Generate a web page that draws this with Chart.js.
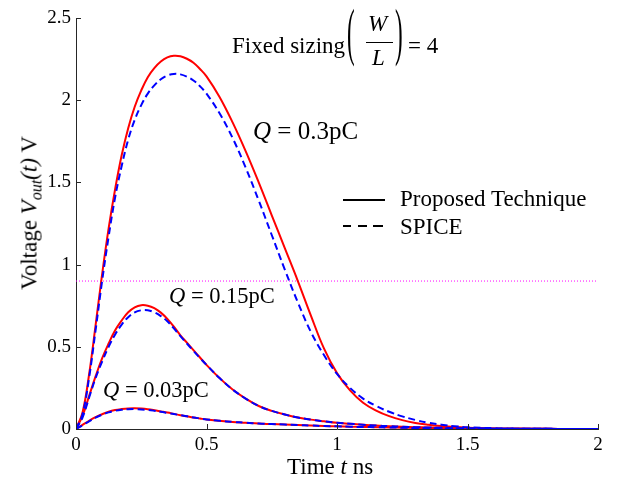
<!DOCTYPE html>
<html>
<head>
<meta charset="utf-8">
<script src="https://cdn.jsdelivr.net/npm/chart.js@4.4.0/dist/chart.umd.min.js"></script>
<style>
  html, body { margin: 0; padding: 0; background: #fff; }
  #wrap { position: relative; width: 625px; height: 479px; font-family: "Liberation Serif", "Times New Roman", serif; color: #000; }
  #wrap canvas { position: absolute; left: 0; top: 0; }
  .lbl { position: absolute; line-height: 1; white-space: nowrap; }
  .dash { position: absolute; height: 0; border-top: 2px solid #000; }
</style>
</head>
<body>
<div id="wrap">
  <canvas id="chart" width="625" height="479"></canvas>

  <!-- title -->
  <div class="lbl" style="left:232px; top:33.7px; font-size:23px;">Fixed sizing</div>
  <div class="lbl" style="left:347px; top:25px; font-size:23px; transform-origin:50% 13.75px; transform:scaleY(2.75);">(</div>
  <div class="lbl" style="left:368px; top:12.4px; font-size:23px; font-style:italic;">W</div>
  <div class="dash" style="left:366px; top:42px; width:27px; border-top-width:1px;"></div>
  <div class="lbl" style="left:372px; top:45.7px; font-size:23px; font-style:italic;">L</div>
  <div class="lbl" style="left:395px; top:25px; font-size:23px; transform-origin:50% 13.75px; transform:scaleY(2.75);">)</div>
  <div class="lbl" style="left:408px; top:33.7px; font-size:23px;">= 4</div>

  <!-- curve labels -->
  <div class="lbl" style="left:253px; top:118.1px; font-size:25px;"><i>Q</i> = 0.3pC</div>
  <div class="lbl" style="left:169px; top:285.2px; font-size:22.5px;"><i>Q</i> = 0.15pC</div>
  <div class="lbl" style="left:103px; top:379.2px; font-size:22.5px;"><i>Q</i> = 0.03pC</div>

  <!-- legend -->
  <div class="dash" style="left:343px; top:199px; width:42px;"></div>
  <div class="lbl" style="left:400px; top:187.2px; font-size:23px;">Proposed Technique</div>
  <div class="dash" style="left:343px; top:225px; width:8px;"></div>
  <div class="dash" style="left:358px; top:225px; width:9px;"></div>
  <div class="dash" style="left:373px; top:225px; width:10px;"></div>
  <div class="lbl" style="left:400px; top:215px; font-size:23px;">SPICE</div>

  <!-- axis titles -->
  <div class="lbl" style="left:287px; top:454.7px; font-size:23px;">Time <i>t</i> ns</div>
  <div class="lbl" style="left:29px; top:212.5px; font-size:23px; transform:translate(-50%,-50%) rotate(-90deg);">Voltage <i>V</i><i style="font-size:16px; line-height:0; vertical-align:-5px;">out</i><i>(t)</i> V</div>
</div>

<script>
// time axis (ns): fine steps over the peaks, coarser in the tails
const T = [0, 0.025, 0.05, 0.075, 0.1, 0.125, 0.15, 0.175, 0.2, 0.225, 0.25, 0.275, 0.3,
  0.325, 0.35, 0.375, 0.4, 0.425, 0.45, 0.475, 0.5,
  0.55, 0.6, 0.65, 0.7, 0.75, 0.8, 0.85, 0.9, 0.95, 1.0,
  1.05, 1.1, 1.15, 1.2, 1.25, 1.3, 1.35, 1.4, 1.45, 1.5,
  1.6, 1.7, 1.8, 1.9, 2.0];

// Q = 0.3pC
const proposed03 = [0, 0.1, 0.33, 0.63, 0.94, 1.22, 1.46, 1.665, 1.83, 1.96, 2.06, 2.14, 2.195,
  2.235, 2.26, 2.27, 2.267, 2.252, 2.228, 2.19, 2.145,
  2.02, 1.865, 1.69, 1.5, 1.3, 1.1, 0.9, 0.69, 0.49, 0.34,
  0.235, 0.16, 0.112, 0.078, 0.054, 0.037, 0.026, 0.018, 0.012, 0.008,
  0.003, 0.001, 0, 0, 0];
const spice03 = [0, 0.09, 0.31, 0.6, 0.9, 1.17, 1.41, 1.6, 1.76, 1.88, 1.97, 2.04, 2.09,
  2.127, 2.15, 2.16, 2.157, 2.143, 2.12, 2.085, 2.04,
  1.92, 1.77, 1.59, 1.39, 1.18, 0.97, 0.77, 0.59, 0.45, 0.335,
  0.25, 0.185, 0.14, 0.105, 0.077, 0.055, 0.038, 0.026, 0.017, 0.011,
  0.005, 0.002, 0.001, 0, 0];

// Q = 0.15pC
const proposed015 = [0, 0.08, 0.2, 0.32, 0.43, 0.52, 0.6, 0.66, 0.71, 0.74, 0.753, 0.75, 0.735,
  0.708, 0.67, 0.622, 0.57, 0.525, 0.48, 0.435, 0.39,
  0.31, 0.24, 0.185, 0.14, 0.11, 0.088, 0.07, 0.057, 0.047, 0.038,
  0.032, 0.026, 0.021, 0.017, 0.014, 0.011, 0.009, 0.007, 0.005, 0.004,
  0.002, 0.001, 0.001, 0, 0];
const spice015 = [0, 0.07, 0.19, 0.31, 0.41, 0.5, 0.575, 0.635, 0.68, 0.71, 0.722, 0.722, 0.71,
  0.687, 0.655, 0.612, 0.565, 0.52, 0.475, 0.432, 0.39,
  0.31, 0.24, 0.185, 0.14, 0.11, 0.088, 0.07, 0.057, 0.047, 0.038,
  0.032, 0.026, 0.021, 0.017, 0.014, 0.011, 0.009, 0.007, 0.005, 0.004,
  0.002, 0.001, 0.001, 0, 0];

// Q = 0.03pC
const proposed003 = [0, 0.025, 0.05, 0.072, 0.09, 0.105, 0.115, 0.121, 0.125, 0.126, 0.124, 0.12, 0.114,
  0.107, 0.1, 0.092, 0.084, 0.077, 0.07, 0.064, 0.058,
  0.05, 0.043, 0.038, 0.033, 0.03, 0.027, 0.024, 0.021, 0.018, 0.016,
  0.014, 0.012, 0.011, 0.009, 0.008, 0.006, 0.005, 0.004, 0.003, 0.003,
  0.002, 0.001, 0.001, 0, 0];
const spice003 = [0, 0.023, 0.047, 0.069, 0.087, 0.101, 0.111, 0.117, 0.12, 0.121, 0.119, 0.116, 0.111,
  0.105, 0.098, 0.091, 0.084, 0.077, 0.07, 0.064, 0.058,
  0.05, 0.043, 0.038, 0.033, 0.03, 0.027, 0.024, 0.021, 0.018, 0.016,
  0.014, 0.012, 0.011, 0.009, 0.008, 0.006, 0.005, 0.004, 0.003, 0.003,
  0.002, 0.001, 0.001, 0, 0];

// dotted reference level (V) and axis ticks
const refLevel = 0.9;
const xTicks = [0, 0.5, 1, 1.5, 2];
const yTicks = [0, 0.5, 1, 1.5, 2, 2.5];

const pts = arr => T.map((t, i) => ({ x: t, y: arr[i] }));

function proposed(arr) {
  return { data: pts(arr), borderColor: '#ff0000', borderWidth: 2, pointRadius: 0, tension: 0.4, order: 1 };
}
function spice(arr) {
  return { data: pts(arr), borderColor: '#0000ff', borderWidth: 2, borderDash: [7, 4], pointRadius: 0,
    tension: 0.4, order: 0 };
}

// MATLAB style ticks pointing into the plot
const innerTicks = {
  id: 'innerTicks',
  afterDraw(chart) {
    const { ctx, chartArea: a, scales: { x, y } } = chart;
    ctx.save();
    ctx.strokeStyle = '#262626';
    ctx.lineWidth = 1;
    ctx.beginPath();
    xTicks.forEach(v => {
      const px = Math.round(x.getPixelForValue(v)) + 0.5;
      ctx.moveTo(px, a.bottom); ctx.lineTo(px, a.bottom - 5);
    });
    yTicks.forEach(v => {
      const py = Math.round(y.getPixelForValue(v)) + 0.5;
      ctx.moveTo(a.left, py); ctx.lineTo(a.left + 5, py);
    });
    ctx.stroke();
    ctx.restore();
  }
};

const tickFont = { family: "'Liberation Serif', serif", size: 19 };
const fmt = v => String(v);

new Chart(document.getElementById('chart'), {
  type: 'line',
  data: {
    datasets: [
      { data: [{ x: 0, y: refLevel }, { x: 2, y: refLevel }], borderColor: '#ff00ff', borderWidth: 1,
        borderDash: [1, 2], pointRadius: 0, order: 2 },
      proposed(proposed03), spice(spice03),
      proposed(proposed015), spice(spice015),
      proposed(proposed003), spice(spice003)
    ]
  },
  options: {
    responsive: false,
    animation: false,
    layout: { padding: { top: 18, right: 27, left: 0, bottom: 0 } },
    plugins: { legend: { display: false }, tooltip: { enabled: false } },
    scales: {
      x: {
        type: 'linear', min: 0, max: 2,
        afterFit: s => { s.height = 50; },
        afterBuildTicks: s => { s.ticks = xTicks.map(v => ({ value: v })); },
        grid: { drawOnChartArea: false, drawTicks: false },
        border: { color: '#262626', width: 1 },
        ticks: { color: '#000', font: tickFont, padding: 5, maxRotation: 0, callback: fmt }
      },
      y: {
        type: 'linear', min: 0, max: 2.5,
        afterFit: s => { s.width = 76; },
        afterBuildTicks: s => { s.ticks = yTicks.map(v => ({ value: v })); },
        grid: { drawOnChartArea: false, drawTicks: false },
        border: { color: '#262626', width: 1 },
        ticks: { color: '#000', font: tickFont, padding: 5, callback: fmt }
      }
    }
  },
  plugins: [innerTicks]
});
</script>
</body>
</html>
